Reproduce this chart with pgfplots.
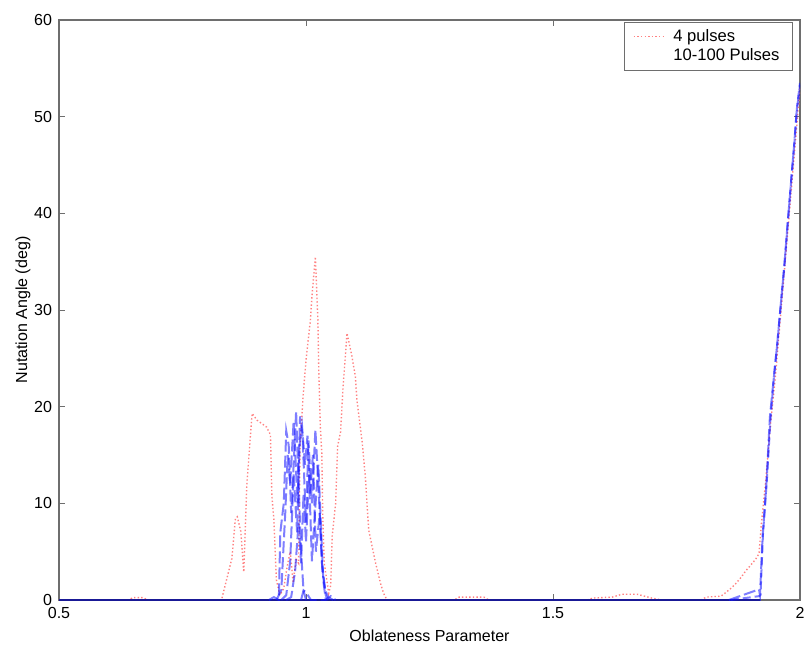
\documentclass[border=0pt]{standalone}
\usepackage{fontspec}
\setmainfont{Liberation Sans}
\usepackage{pgfplots}
\pgfplotsset{compat=1.18}
\definecolor{pulsered}{RGB}{255,130,130}
\definecolor{pulseblue}{RGB}{20,20,255}
\definecolor{basenavy}{RGB}{25,25,150}
\definecolor{axisgray}{RGB}{110,110,110}
\begin{document}
\begin{tikzpicture}
\useasboundingbox (-29.5pt,-26pt) rectangle (373.5pt,300pt);
\begin{axis}[
  scale only axis, width=370.5pt, height=290pt,
  xmin=0.5, xmax=2, ymin=0, ymax=60,
  xtick={0.5,1,1.5,2}, xticklabels={0.5,1,1.5,2},
  ytick={0,10,...,60},
  tick align=inside, major tick length=3pt,
  axis line style={axisgray, line width=0.6pt},
  every tick/.style={axisgray, line width=0.5pt},
  font=\fontsize{8}{9.6}\selectfont,
  /pgf/number format/assume math mode=true,
  xlabel={Oblateness Parameter}, ylabel={Nutation Angle (deg)},
  xlabel style={yshift=1pt},
  ylabel style={yshift=-5pt},
  legend style={at={(0.9906,0.9966)}, anchor=north east, draw=axisgray,
    line width=0.5pt, font=\fontsize{8.3}{9.6}\selectfont,
    inner xsep=4.5pt, inner ysep=2.5pt, row sep=0.6pt,
    nodes={inner ysep=0.8pt}},
  legend cell align=left,
  legend image code/.code={\draw[#1] (0pt,0pt) -- (15.5pt,0pt); \path (17.5pt,0pt);},
]
% 4 pulses
\addplot[pulsered, line width=0.7pt, dash pattern=on 0.7pt off 1.1pt] coordinates {
(0.5,0)(0.64,0)(0.65,0.25)(0.67,0.25)(0.68,0)(0.829,0)(0.850,4.3)(0.857,8.4)
(0.861,8.6)(0.868,7.1)(0.874,2.9)(0.880,11.7)(0.887,16.7)(0.891,19.3)(0.901,18.6)
(0.920,17.9)(0.928,17.1)(0.931,10.7)(0.935,8.3)(0.940,2.1)(0.947,0.5)(0.955,1.2)
(0.962,3.5)(0.968,5)(0.974,1.8)(0.980,4.2)(0.985,3.8)(0.988,15.9)(0.994,21)
(1.000,24.8)(1.009,29)(1.012,31.4)(1.019,35.5)(1.024,29)(1.026,23.4)(1.029,17.9)
(1.032,15.2)(1.034,8.6)(1.037,3.8)(1.046,0.7)(1.050,1.5)(1.053,6.6)(1.060,10)
(1.064,15.9)(1.070,17.4)(1.075,22)(1.080,25.5)(1.083,27.6)(1.086,26.9)(1.093,25.2)
(1.100,23.1)(1.103,20.7)(1.114,16.2)(1.120,12.8)(1.127,7.2)(1.134,5.5)(1.141,3.8)
(1.151,1.7)(1.157,0.7)(1.164,0)(1.30,0)(1.31,0.3)(1.36,0.3)(1.37,0)(1.57,0)
(1.58,0.2)(1.62,0.3)(1.64,0.6)(1.67,0.6)(1.70,0.2)(1.72,0)(1.80,0)(1.81,0.3)
(1.84,0.4)(1.848,0.7)(1.86,1.2)(1.87,1.7)(1.88,2.3)(1.89,3.0)(1.90,3.6)(1.91,4.2)
(1.917,4.8)(1.922,8)(1.93,12)(1.94,18)(1.95,23)(1.96,29)(1.97,35)(1.98,41)
(1.99,47)(2.0,53)};
\addlegendentry{4 pulses}
\addlegendimage{empty legend}
\addlegendentry{10-100 Pulses}
% 10-100 pulses
\addplot[basenavy, line width=1pt, forget plot] coordinates {(0.5,0)(1.919,0)};
\addplot[pulseblue, opacity=0.55, line width=1pt, dash pattern=on 6pt off 2pt, forget plot] coordinates {
(0.925,0)(0.935,0.3)(0.945,0)(0.948,7)(0.955,10)(0.960,17.5)(0.965,16)(0.970,9)
(0.975,14)(0.980,19.5)(0.985,12)(0.990,5)(0.995,1)(1.0,0)};
\addplot[pulseblue, opacity=0.55, line width=1pt, dash pattern=on 6pt off 2pt, forget plot] coordinates {
(0.94,0)(0.95,1)(0.958,9)(0.963,15)(0.968,12)(0.975,18.5)(0.983,10)(0.988,19)
(0.993,17)(1.000,8)(1.005,16.5)(1.012,10)(1.019,17.6)(1.025,12)(1.032,4)(1.04,0.5)(1.045,0)};
\addplot[pulseblue, opacity=0.55, line width=1pt, dash pattern=on 6pt off 2pt, forget plot] coordinates {
(0.95,0)(0.96,0.5)(0.968,4)(0.975,13)(0.982,7)(0.987,16)(0.992,18)(0.998,14)
(1.003,17)(1.008,11)(1.014,15)(1.02,5)(1.028,9)(1.033,3)(1.039,1)(1.045,0.3)(1.055,0)};
\addplot[pulseblue, opacity=0.55, line width=1pt, dash pattern=on 6pt off 2pt, forget plot] coordinates {
(0.96,0)(0.97,0.3)(0.978,3)(0.985,8)(0.99,3.8)(0.995,11)(1.0,6)(1.006,13)
(1.012,4)(1.018,9)(1.025,14)(1.03,8)(1.035,2)(1.04,0)};
\addplot[pulseblue, opacity=0.55, line width=1pt, dash pattern=on 6pt off 2pt, forget plot] coordinates {
(0.99,0)(0.995,1)(1.0,0.8)(1.01,0)(1.04,0)(1.05,0.4)(1.06,0)};
\addplot[pulseblue, opacity=0.55, line width=1pt, dash pattern=on 6pt off 2pt, forget plot] coordinates {
(1.856,0)(1.917,1.1)(1.919,0.5)(1.924,6.3)(1.932,12)(1.939,18.9)(1.946,22.5)
(1.953,26)(1.96,30)(1.968,34.4)(1.975,39)(1.982,43.3)(1.988,47)(1.993,50.4)(2.0,53.3)};
\addplot[pulseblue, opacity=0.55, line width=1pt, dash pattern=on 4pt off 2pt, forget plot] coordinates {
(1.86,0)(1.917,0.4)(1.920,0.5)(1.925,6.8)(1.933,12.5)(1.940,18.5)(1.947,23)
(1.954,26.5)(1.961,30.5)(1.969,35)(1.976,39.5)(1.983,44)(1.989,47.5)(1.994,51)(2.0,53.5)};
\end{axis}
\end{tikzpicture}
\end{document}
